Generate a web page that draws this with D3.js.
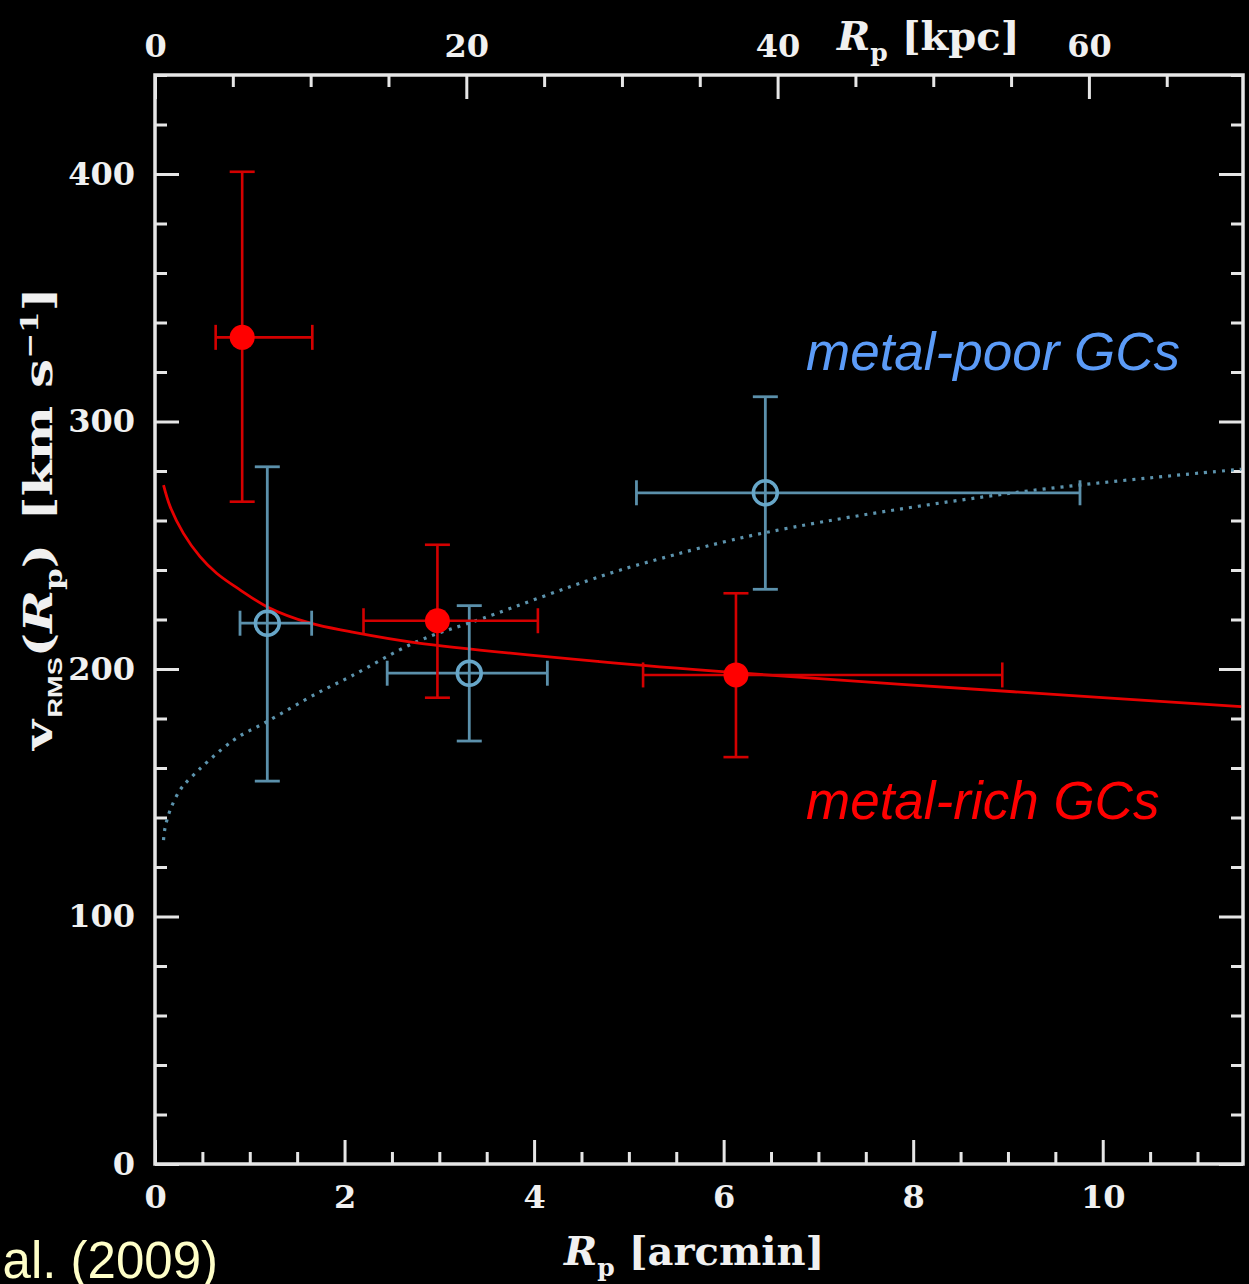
<!DOCTYPE html>
<html>
<head>
<meta charset="utf-8">
<title>vRMS profile</title>
<script src="https://cdn.jsdelivr.net/npm/d3@7"></script>
<style>
body{
    margin: 0;
    background: #000;
}
.frame {
    fill: none;
    stroke: #e6e6e6;
    stroke-width: 3.5px;
}
.ax path { display: none; }
.ax line { stroke: #e6e6e6; stroke-width: 3px; }
.ax text {
    fill: #f0f0f0;
    font-family: "DejaVu Serif", serif;
    font-weight: bold;
    font-size: 32px;
}
.title {
    fill: #f0f0f0;
    font-family: "DejaVu Serif", serif;
    font-weight: bold;
    font-size: 40px;
}
.leg {
    font-family: "Liberation Sans", Arial, sans-serif;
    font-style: italic;
}
</style>
</head>
<body>
<div id="chart"></div>
<script>
// projected radius in arcmin, vRMS in km/s
var richX   = [0.92, 2.98, 6.13],
    richY   = [334, 219.5, 197.6],
    richXlo = [0.64, 2.20, 5.15],
    richXhi = [1.66, 4.04, 8.94],
    richYlo = [267.6, 188.4, 164.4],
    richYhi = [400.9, 250.2, 230.6];

var poorX   = [1.185, 3.316, 6.44],
    poorY   = [218.5, 198.3, 271.2],
    poorXlo = [0.897, 2.45, 5.08],
    poorXhi = [1.653, 4.14, 9.76],
    poorYlo = [154.7, 170.9, 232.2],
    poorYhi = [281.7, 225.6, 310];

// model curves
var richModelX = [0.09, 0.16, 0.3, 0.475, 0.65, 0.9, 1.18, 1.64, 2.06, 2.76, 4.69, 6.13, 9.06, 11.46],
    richModelY = [274.3, 265.6, 254.8, 245.4, 238.7, 231.9, 225.2, 218.5, 215.1, 210.6, 203.0, 198.5, 190.8, 184.8];
var poorModelX = [0.09, 0.105, 0.16, 0.264, 0.37, 0.83, 1.18, 1.71, 2.06, 2.76, 3.46, 4.69, 5.22, 6.44, 9.06, 11.46],
    poorModelY = [130.9, 135.6, 143, 151.1, 155.8, 171.3, 178.7, 190.2, 196.9, 211, 220.5, 237.3, 243.4, 255.1, 271.2, 280.7];

var xMajor   = [0, 2, 4, 6, 8, 10],
    kpcMajor = [0, 20, 40, 60],
    yMajor   = [0, 100, 200, 300, 400];

var W = 1249, H = 1284,
    pLeft = 155, pRight = 1243, pTop = 75, pBottom = 1164,
    xMax = 11.48, kpcMax = 69.9, yMax = 440;

var x = d3.scaleLinear().domain([0, xMax]).range([pLeft, pRight]);
var xk = d3.scaleLinear().domain([0, kpcMax]).range([pLeft, pRight]);
var y = d3.scaleLinear().domain([0, yMax]).range([pBottom, pTop]);

var svg = d3.select('#chart').append('svg')
    .attr('width', W)
    .attr('height', H);

function minors(step, max, majors) {
    return d3.range(0, max + 1e-9, step).filter(function(v) {
        return majors.indexOf(+v.toFixed(3)) < 0;
    });
}

// bottom
svg.append('g').attr('class', 'ax').attr('transform', 'translate(0,' + pBottom + ')')
    .call(d3.axisBottom(x).tickValues(xMajor).tickSize(-24).tickPadding(21));
svg.append('g').attr('class', 'ax').attr('transform', 'translate(0,' + pBottom + ')')
    .call(d3.axisBottom(x).tickValues(minors(0.5, xMax, xMajor)).tickSize(-12).tickFormat(''));
// top (kpc)
svg.append('g').attr('class', 'ax').attr('transform', 'translate(0,' + pTop + ')')
    .call(d3.axisTop(xk).tickValues(kpcMajor).tickSize(-24).tickPadding(18));
svg.append('g').attr('class', 'ax').attr('transform', 'translate(0,' + pTop + ')')
    .call(d3.axisTop(xk).tickValues(minors(5, kpcMax, kpcMajor)).tickSize(-12).tickFormat(''));
// left
svg.append('g').attr('class', 'ax').attr('transform', 'translate(' + pLeft + ',0)')
    .call(d3.axisLeft(y).tickValues(yMajor).tickSize(-24).tickPadding(20));
svg.append('g').attr('class', 'ax').attr('transform', 'translate(' + pLeft + ',0)')
    .call(d3.axisLeft(y).tickValues(minors(20, yMax, yMajor)).tickSize(-12).tickFormat(''));
// right
svg.append('g').attr('class', 'ax').attr('transform', 'translate(' + pRight + ',0)')
    .call(d3.axisRight(y).tickValues(yMajor).tickSize(-24).tickFormat(''));
svg.append('g').attr('class', 'ax').attr('transform', 'translate(' + pRight + ',0)')
    .call(d3.axisRight(y).tickValues(minors(20, yMax, yMajor)).tickSize(-12).tickFormat(''));

svg.append('rect').attr('class', 'frame')
    .attr('x', pLeft).attr('y', pTop)
    .attr('width', pRight - pLeft).attr('height', pBottom - pTop);

// model curves
var line = d3.line()
    .x(function(d) { return x(d[0]); })
    .y(function(d) { return y(d[1]); })
    .curve(d3.curveCatmullRom.alpha(0.5));

svg.append('path')
    .datum(d3.zip(poorModelX, poorModelY))
    .attr('d', line)
    .attr('fill', 'none')
    .attr('stroke', '#5c93ad')
    .attr('stroke-width', 3.2)
    .attr('stroke-dasharray', '3,6');

svg.append('path')
    .datum(d3.zip(richModelX, richModelY))
    .attr('d', line)
    .attr('fill', 'none')
    .attr('stroke', '#e60000')
    .attr('stroke-width', 2.8);

function errorBars(g, xs, ys, xlo, xhi, ylo, yhi, color, width) {
    var cap = 12.5;
    xs.forEach(function(v, i) {
        var cx = x(v), cy = y(ys[i]);
        var segs = [
            [x(xlo[i]), cy, x(xhi[i]), cy],
            [cx, y(ylo[i]), cx, y(yhi[i])],
            [x(xlo[i]), cy - cap, x(xlo[i]), cy + cap],
            [x(xhi[i]), cy - cap, x(xhi[i]), cy + cap],
            [cx - cap, y(ylo[i]), cx + cap, y(ylo[i])],
            [cx - cap, y(yhi[i]), cx + cap, y(yhi[i])]
        ];
        g.selectAll(null).data(segs).enter().append('line')
            .attr('x1', function(s) { return s[0]; })
            .attr('y1', function(s) { return s[1]; })
            .attr('x2', function(s) { return s[2]; })
            .attr('y2', function(s) { return s[3]; })
            .attr('stroke', color)
            .attr('stroke-width', width);
    });
}

var gPoor = svg.append('g');
errorBars(gPoor, poorX, poorY, poorXlo, poorXhi, poorYlo, poorYhi, '#5b90ab', 2.8);
gPoor.selectAll('circle').data(d3.zip(poorX, poorY)).enter().append('circle')
    .attr('cx', function(d) { return x(d[0]); })
    .attr('cy', function(d) { return y(d[1]); })
    .attr('r', 12)
    .attr('fill', 'none')
    .attr('stroke', '#67a6c8')
    .attr('stroke-width', 3.5);

var gRich = svg.append('g');
errorBars(gRich, richX, richY, richXlo, richXhi, richYlo, richYhi, '#d40000', 2.6);
gRich.selectAll('circle').data(d3.zip(richX, richY)).enter().append('circle')
    .attr('cx', function(d) { return x(d[0]); })
    .attr('cy', function(d) { return y(d[1]); })
    .attr('r', 12.5)
    .attr('fill', '#ff0000');

// axis titles
var tb = svg.append('text').attr('class', 'title').attr('x', 564).attr('y', 1265);
tb.append('tspan').attr('font-style', 'italic').text('R');
tb.append('tspan').attr('font-size', 25).attr('dy', 11).text('p');
tb.append('tspan').attr('dy', -11).text(' [arcmin]');

var tt = svg.append('text').attr('class', 'title').attr('x', 837).attr('y', 50);
tt.append('tspan').attr('font-style', 'italic').text('R');
tt.append('tspan').attr('font-size', 25).attr('dy', 11).text('p');
tt.append('tspan').attr('dy', -11).text(' [kpc]');

var ty = svg.append('text').attr('class', 'title')
    .attr('font-size', 38)
    .attr('transform', 'translate(52,750) rotate(-90) scale(1.29,1)');
ty.append('tspan').text('v');
ty.append('tspan').attr('font-size', 21).attr('font-family', 'Liberation Sans Narrow, Liberation Sans, sans-serif')
    .attr('dy', 10).attr('dx', 2).text('RMS');
ty.append('tspan').attr('dy', -10).text('(');
ty.append('tspan').attr('font-style', 'italic').text('R');
ty.append('tspan').attr('font-size', 24).attr('dy', 10).text('p');
ty.append('tspan').attr('dy', -10).text(')');
ty.append('tspan').attr('dx', 18).text('[km s');
ty.append('tspan').attr('font-size', 24).attr('dy', -14).text('\u22121');
ty.append('tspan').attr('dy', 14).text(']');

// labels
svg.append('text').attr('class', 'leg')
    .attr('x', 806).attr('y', 370)
    .attr('font-size', 53)
    .attr('fill', '#5b9bf7')
    .text('metal-poor GCs');
svg.append('text').attr('class', 'leg')
    .attr('x', 806).attr('y', 819)
    .attr('font-size', 53)
    .attr('fill', '#ff0000')
    .text('metal-rich GCs');

svg.append('text')
    .attr('x', 218).attr('y', 1278)
    .attr('text-anchor', 'end')
    .attr('font-family', 'Liberation Sans, Arial, sans-serif')
    .attr('font-size', 51)
    .attr('fill', '#ffffc8')
    .text('al. (2009)');
</script>
</body>
</html>
